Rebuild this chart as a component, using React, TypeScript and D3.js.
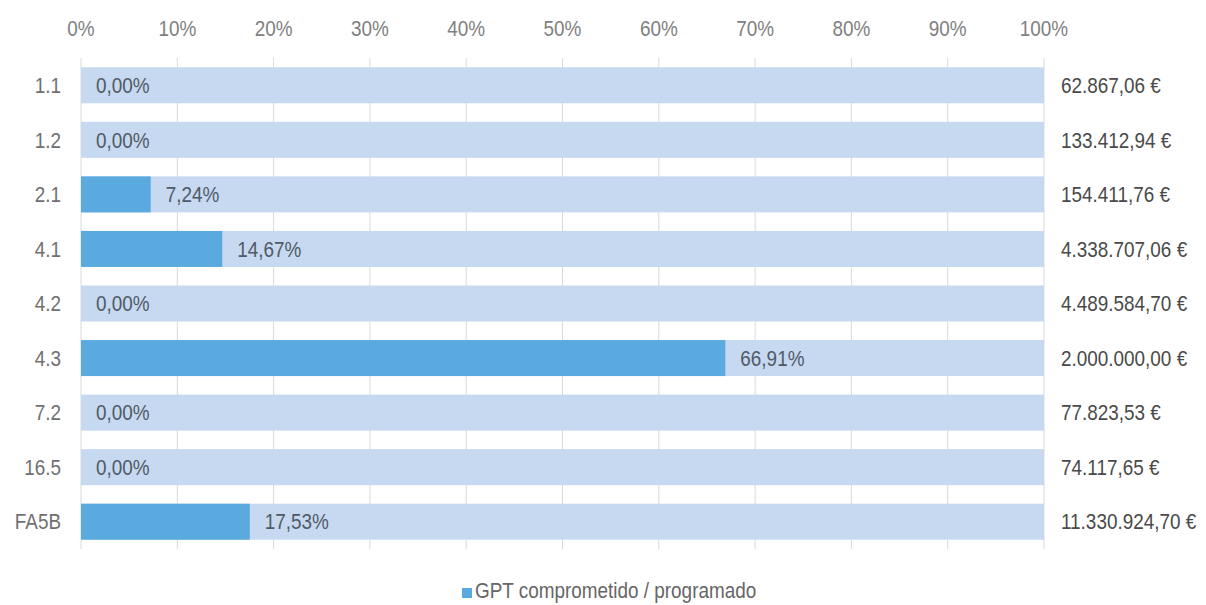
import React from "react";
import * as d3 from "d3";

const categories = ["1.1", "1.2", "2.1", "4.1", "4.2", "4.3", "7.2", "16.5", "FA5B"];
const committedPct = [0, 0, 7.24, 14.67, 0, 66.91, 0, 0, 17.53];
const programmedLabels = [
  "62.867,06 €",
  "133.412,94 €",
  "154.411,76 €",
  "4.338.707,06 €",
  "4.489.584,70 €",
  "2.000.000,00 €",
  "77.823,53 €",
  "74.117,65 €",
  "11.330.924,70 €",
];
const xTicks = [0, 10, 20, 30, 40, 50, 60, 70, 80, 90, 100];
const legendLabel = "GPT comprometido / programado";

const W = 1206;
const H = 605;
const FONT = "'Liberation Sans', Arial, sans-serif";
const SX = 0.86;
const FS = 22;

function NText(props: {
  x: number;
  y: number;
  anchor?: "start" | "middle" | "end";
  fill: string;
  size?: number;
  dy?: string;
  children: React.ReactNode;
}) {
  const { x, y, anchor = "start", fill, size = FS, dy, children } = props;
  return (
    <g transform={`translate(${x},${y}) scale(${SX},1)`}>
      <text x={0} y={0} dy={dy} textAnchor={anchor} fontSize={size} fill={fill}>
        {children}
      </text>
    </g>
  );
}

export default function App() {
  const x = d3.scaleLinear().domain([0, 100]).range([81, 1044]);
  const y = d3
    .scaleBand<string>()
    .domain(categories)
    .range([58, 549])
    .paddingInner(0.34)
    .paddingOuter(0.17);
  const fmt = (v: number) => v.toFixed(2).replace(".", ",") + "%";
  return (
    <svg
      width={W}
      height={H}
      style={{ position: "absolute", left: 0, top: 0, background: "#fff" }}
      fontFamily={FONT}
    >
      {xTicks.map((t) => (
        <line
          key={"g" + t}
          x1={x(t)}
          x2={x(t)}
          y1={58}
          y2={549}
          stroke="#d9d9d9"
          strokeWidth={1}
        />
      ))}
      {xTicks.map((t) => (
        <NText key={"t" + t} x={x(t)} y={36} anchor="middle" fill="#808080">
          {t + "%"}
        </NText>
      ))}
      {categories.map((c, i) => {
        const yy = y(c)!;
        const bw = y.bandwidth();
        const cy = yy + bw / 2;
        const v = committedPct[i];
        return (
          <g key={c}>
            <rect x={x(0)} y={yy} width={x(100) - x(0)} height={bw} fill="#c6d9f0" />
            {v > 0 && (
              <rect x={x(0)} y={yy} width={x(v) - x(0)} height={bw} fill="#5aaae0" />
            )}
            <NText x={x(v) + 15} y={cy} dy="0.35em" fill="#505a66">
              {fmt(v)}
            </NText>
            <NText x={61} y={cy} dy="0.35em" anchor="end" fill="#707070">
              {c}
            </NText>
            <NText x={1061} y={cy} dy="0.35em" fill="#4a4a4a">
              {programmedLabels[i]}
            </NText>
          </g>
        );
      })}
      <rect x={462} y={588} width={10} height={10} fill="#5aaae0" />
      <NText x={475} y={598} fill="#666666">
        {legendLabel}
      </NText>
    </svg>
  );
}
